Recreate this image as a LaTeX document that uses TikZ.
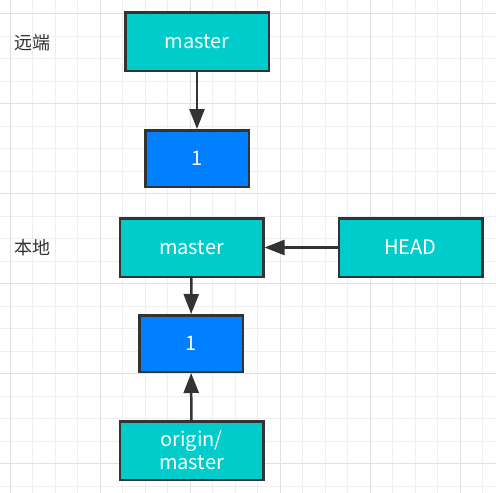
\documentclass[tikz,border=0pt]{standalone}
\usepackage{fontspec}
\setmainfont{Noto Sans CJK SC}
\usepackage{tikz}
\usetikzlibrary{arrows.meta}

\definecolor{cian}{RGB}{0,204,204}
\definecolor{azul}{RGB}{0,127,255}
\definecolor{borde}{RGB}{51,51,51}
\definecolor{rejilla}{RGB}{238,238,238}
\definecolor{rejillafuerte}{RGB}{224,224,224}

\begin{document}
\begin{tikzpicture}[x=1pt, y=-1pt,
    every node/.style={inner sep=0pt, font=\fontsize{20}{24}\selectfont},
    branch/.style={draw=borde, line width=2.5pt, fill=cian, text=white, minimum width=143.5pt, minimum height=58.5pt, align=center},
    commit/.style={draw=borde, line width=2.5pt, fill=azul, text=white, minimum width=103.5pt, minimum height=56.5pt},
    zona/.style={text=borde, font=\fontsize{18}{20}\selectfont},
    flecha/.style={-{Triangle[length=20pt, width=15pt]}, draw=borde, line width=2.5pt}]
            \useasboundingbox (0,0) rectangle (496,493);
            \fill[white] (0,0) rectangle (496,493);

            % Rejilla
            \foreach \i in {0,...,21} {
              \draw[rejilla, line width=1pt] (10+22.5*\i,0) -- (10+22.5*\i,493);
              \draw[rejilla, line width=1pt] (0,13.5+22.5*\i) -- (496,13.5+22.5*\i);
            }
            \foreach \i in {0,...,5} {
              \draw[rejillafuerte, line width=1pt] (10+90*\i,0) -- (10+90*\i,493);
              \draw[rejillafuerte, line width=1pt] (0,13.5+90*\i) -- (496,13.5+90*\i);
            }

            % Nodos
            \node[zona] (remoto) at (33,43) {远端};
            \node[zona] (local) at (33,248) {本地};
            \node[branch] (rmaster) at (197,41.5) {master};
            \node[commit] (rone) at (197,158.5) {1};
            \node[branch] (lmaster) at (191.5,247.5) {master};
            \node[branch] (head) at (410.5,247.5) {HEAD};
            \node[commit] (lone) at (191,343.5) {1};
            \node[branch, font=\fontsize{20}{23}\selectfont] (origin) at (191.5,450.5) {origin/\\master};

            % Flechas
            \draw[flecha] (rmaster) -- (rone);
            \draw[flecha] (head) -- (lmaster);
            \draw[flecha] (lmaster) -- (lone);
            \draw[flecha] (origin) -- (lone);
          \end{tikzpicture}
\end{document}
